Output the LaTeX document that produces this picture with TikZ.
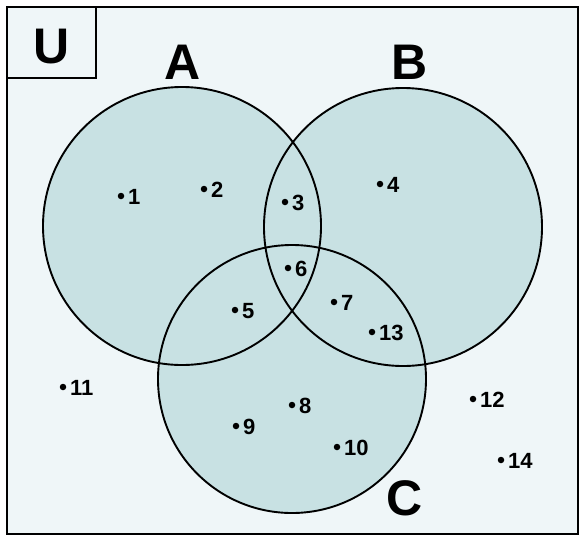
\documentclass[tikz,border=0pt]{standalone}
\usepackage{fontspec}
\setmainfont{Liberation Sans}
\definecolor{bgc}{HTML}{EFF6F8}
\definecolor{setc}{HTML}{C8E1E3}
\begin{document}
\begin{tikzpicture}[x=1pt,y=-1pt,
  setline/.style={line width=1.9pt, draw=black},
  biglab/.style={font=\fontsize{50}{50}\selectfont\bfseries, inner sep=0pt},
  elem/.style={circle, fill=black, inner sep=0pt, minimum size=6.5pt},
  elemlab/.style={font=\fontsize{22}{22}\selectfont\bfseries, inner sep=0pt, anchor=west}]
\useasboundingbox (0,0) rectangle (585,541);
\fill[white] (0,0) rectangle (585,541);
\draw[line width=2.4pt, fill=bgc] (7,7) rectangle (578,534);
\draw[line width=2pt] (7,78) -| (96,7);
% set fills
\fill[setc] (182,226) circle[radius=139pt];
\fill[setc] (403,227) circle[radius=139pt];
\fill[setc] (292,379) circle[radius=134pt];
% outlines
\draw[setline] (182,226) circle[radius=139pt];
\draw[setline] (403,227) circle[radius=139pt];
\draw[setline] (292,379) circle[radius=134pt];
% set labels
\node[biglab] (U) at (52,47) {U};
\node[biglab] (A) at (183,62) {A};
\node[biglab] (B) at (410,62) {B};
\node[biglab] (C) at (405,498) {C};
% elements
\foreach \n/\x/\y in {1/121/196, 2/204/189, 3/285/202, 4/380/184, 5/235/310,
  6/288/268, 7/334/302, 8/292/405, 9/236/426, 10/337/447, 11/63/387,
  12/473/399, 13/372/332, 14/501/460}{
  \node[elem] (d\n) at (\x,\y) {};
  \node[elemlab] (t\n) at (\x+7,\y+1) {\n};
}
\end{tikzpicture}
\end{document}
